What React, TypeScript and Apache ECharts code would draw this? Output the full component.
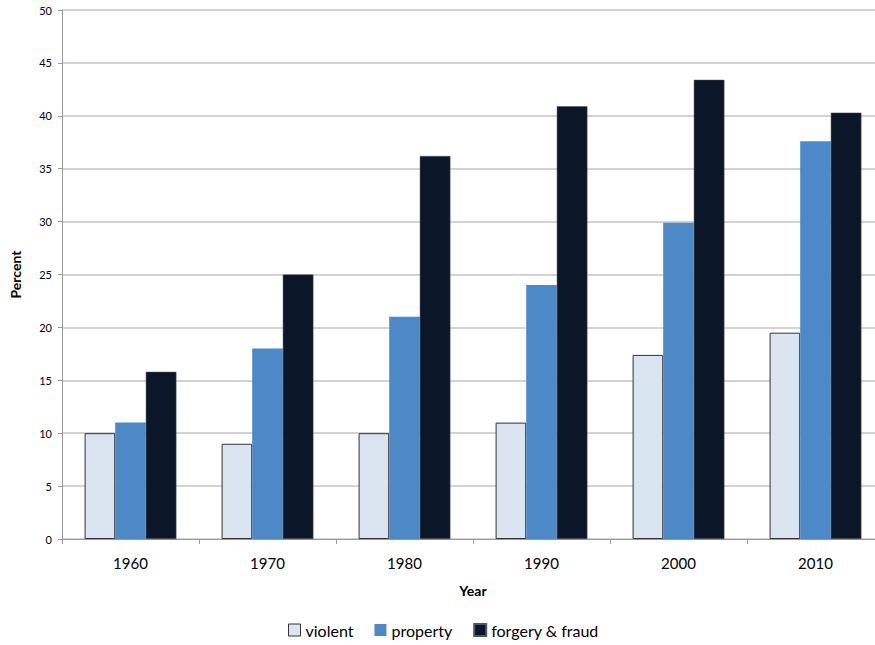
import React, { useEffect, useRef } from "react";
import * as echarts from "echarts";

const years = ["1960", "1970", "1980", "1990", "2000", "2010"];
const violent = [10, 9, 10, 11, 17.4, 19.5];
const property = [11, 18, 21, 24, 29.9, 37.6];
const forgeryFraud = [15.8, 25, 36.2, 40.9, 43.4, 40.3];
const yTicks = { min: 0, max: 50, interval: 5 };

const FONT = "Lato, 'Open Sans', sans-serif";

export default function App() {
  const ref = useRef<HTMLDivElement>(null);
  useEffect(() => {
    if (!ref.current) return;
    const chart = echarts.init(ref.current, undefined, { renderer: "svg" });
    chart.setOption({
      animation: false,
      backgroundColor: "#ffffff",
      textStyle: { fontFamily: FONT },
      grid: { left: 58, right: 16, top: 10, bottom: 106, containLabel: false },
      legend: {
        bottom: 2,
        left: 283,
        itemWidth: 12,
        itemHeight: 12,
        itemGap: 21,
        icon: "rect",
        textStyle: { fontFamily: FONT, fontSize: 16, color: "#000" },
        data: [
          { name: "violent", itemStyle: { borderColor: "#333", borderWidth: 1 } },
          { name: "property" },
          { name: "forgery & fraud" },
        ],
      },
      xAxis: {
        type: "category",
        data: years,
        name: "Year",
        nameLocation: "middle",
        nameGap: 44,
        nameTextStyle: { fontFamily: FONT, fontSize: 14, fontWeight: "bold", color: "#000" },
        axisLine: { lineStyle: { color: "#9a9a9a", width: 1 } },
        axisTick: { show: true, length: 5, lineStyle: { color: "#9a9a9a" } },
        axisLabel: { fontFamily: FONT, fontSize: 15, color: "#000", margin: 16 },
      },
      yAxis: {
        type: "value",
        min: yTicks.min,
        max: yTicks.max,
        interval: yTicks.interval,
        name: "Percent",
        nameLocation: "middle",
        nameRotate: 90,
        nameGap: 40,
        nameTextStyle: { fontFamily: FONT, fontSize: 14, fontWeight: "bold", color: "#000" },
        axisLine: { show: true, lineStyle: { color: "#9a9a9a", width: 1 } },
        axisTick: { show: true, length: 4, lineStyle: { color: "#9a9a9a" } },
        axisLabel: { fontFamily: FONT, fontSize: 11, color: "#000", margin: 10 },
        splitLine: { show: true, lineStyle: { color: "#c4c4c4", width: 1.5 } },
      },
      series: [
        {
          name: "violent",
          type: "bar",
          data: violent,
          barGap: "0%",
          barCategoryGap: "33%",
          itemStyle: { color: "#dbe5f1", borderColor: "#333333", borderWidth: 1 },
        },
        {
          name: "property",
          type: "bar",
          data: property,
          barGap: "0%",
          barCategoryGap: "33%",
          itemStyle: { color: "#4d88c7" },
        },
        {
          name: "forgery & fraud",
          type: "bar",
          data: forgeryFraud,
          barGap: "0%",
          barCategoryGap: "33%",
          itemStyle: { color: "#0b1628", borderColor: "#4a5566", borderWidth: 0.5 },
        },
      ],
    });
    return () => chart.dispose();
  }, []);
  return (
    <div
      ref={ref}
      style={{ position: "fixed", left: 0, top: 0, width: 900, height: 645, background: "#fff" }}
    />
  );
}
